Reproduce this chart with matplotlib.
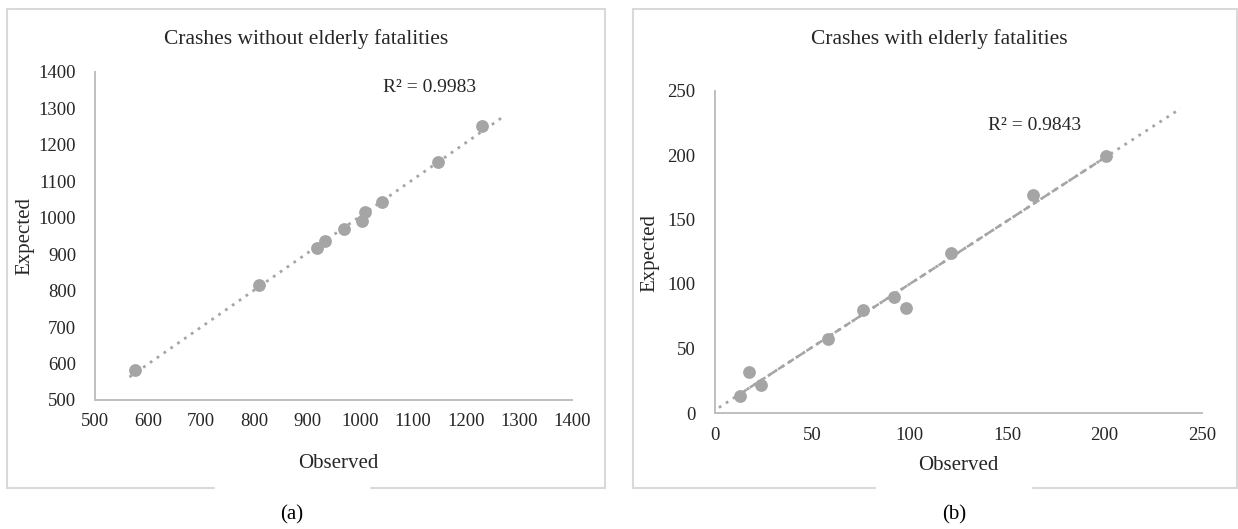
import numpy as np
import matplotlib
matplotlib.use("Agg")
import matplotlib.pyplot as plt
from matplotlib.patches import Rectangle
from matplotlib.lines import Line2D

# data
obs_without = [576, 809, 919, 934, 969, 1004, 1010, 1041, 1148, 1231]
exp_without = [581, 815, 917, 935, 968, 991, 1017, 1044, 1153, 1252]
r2_without = "R² = 0.9983"

obs_with = [13, 17.7, 23.6, 58.2, 75.9, 91.7, 98.3, 121, 163.4, 200.5]
exp_with = [13, 32, 22, 57.4, 79.7, 89.6, 81.2, 124, 168.8, 199]
r2_with = "R² = 0.9843"

ticks_without = [500, 600, 700, 800, 900, 1000, 1100, 1200, 1300, 1400]
ticks_with = [0, 50, 100, 150, 200, 250]

# trendline extents (forecast forward/backward as in the spreadsheet)
trend_without = [565, 1270]
trend_with = [2, 239]

W, H = 1238, 529
plt.rcParams['font.family'] = ['Liberation Serif', 'DejaVu Serif']
fig = plt.figure(figsize=(W / 100, H / 100), dpi=100)

GRAY = '#a5a5a5'
AXC = '#bfbfbf'
TXT = '#262626'


def px(x, y):
    # pixel position -> figure fraction
    return x / W, 1 - y / H


def frame(x0, y0, x1, y1, gap):
    fig.patches.append(Rectangle(px(x0, y1), (x1 - x0) / W, (y1 - y0) / H,
                                 transform=fig.transFigure, fill=False,
                                 edgecolor='#d9d9d9', linewidth=1.5))
    fig.lines.append(Line2D([gap[0] / W, gap[1] / W], [1 - y1 / H] * 2,
                            transform=fig.transFigure, color='white', linewidth=2.5))


def style(ax, ticks, ypad, xpad):
    for s in ['top', 'right']:
        ax.spines[s].set_visible(False)
    for s in ['left', 'bottom']:
        ax.spines[s].set_color(AXC)
        ax.spines[s].set_linewidth(1.4)
    ax.set_xlim(ticks[0], ticks[-1])
    ax.set_ylim(ticks[0], ticks[-1])
    ax.set_xticks(ticks)
    ax.set_yticks(ticks)
    ax.tick_params(axis='y', length=0, pad=ypad, labelsize=13.5, labelcolor=TXT)
    ax.tick_params(axis='x', length=0, pad=xpad, labelsize=13.5, labelcolor=TXT)


def panel(rect, obs, exp, ticks, trange, r2, ypad, xpad, dashed=False):
    ax = fig.add_axes(rect)
    style(ax, ticks, ypad, xpad)
    ax.scatter(obs, exp, s=85, color=GRAY, zorder=3, linewidths=0)
    k, b = np.polyfit(obs, exp, 1)
    tx = np.array(trange, dtype=float)
    ax.plot(tx, k * tx + b, linestyle=(0, (1, 2)), color=GRAY, linewidth=2, zorder=2)
    if dashed:
        dx = np.array([min(obs), max(obs)], dtype=float)
        ax.plot(dx, k * dx + b, linestyle=(0, (3, 1.5)), color=GRAY, linewidth=1.8, zorder=2)
    return ax


frame(7, 9, 605, 488, (216, 368))
frame(633, 9, 1237, 488, (877, 1030))

panel([95 / W, 1 - 400 / H, 477 / W, 328 / H], obs_without, exp_without,
      ticks_without, trend_without, r2_without, 13.5, 9)
panel([715 / W, 1 - 413 / H, 487 / W, 322.5 / H], obs_with, exp_with,
      ticks_with, trend_with, r2_with, 14, 10, dashed=True)

# titles, axis labels, R² and captions
fig.text(*px(306, 39), "Crashes without elderly fatalities", ha='center', va='center', fontsize=15.5, color=TXT)
fig.text(*px(939, 39), "Crashes with elderly fatalities", ha='center', va='center', fontsize=15.5, color=TXT)
fig.text(*px(338, 463), "Observed", ha='center', va='center', fontsize=15, color=TXT)
fig.text(*px(958, 465), "Observed", ha='center', va='center', fontsize=15, color=TXT)
fig.text(*px(25, 236), "Expected", ha='center', va='center', rotation=90, fontsize=15, color=TXT)
fig.text(*px(650, 253), "Expected", ha='center', va='center', rotation=90, fontsize=15, color=TXT)
fig.text(*px(430, 87), r2_without, ha='center', va='center', fontsize=14, color=TXT)
fig.text(*px(1035, 126), r2_with, ha='center', va='center', fontsize=14, color=TXT)
fig.text(*px(292, 515), "(a)", ha='center', va='center', fontsize=15, color='black')
fig.text(*px(954, 515), "(b)", ha='center', va='center', fontsize=15, color='black')

fig.savefig("out.png", dpi=100, facecolor='white')
